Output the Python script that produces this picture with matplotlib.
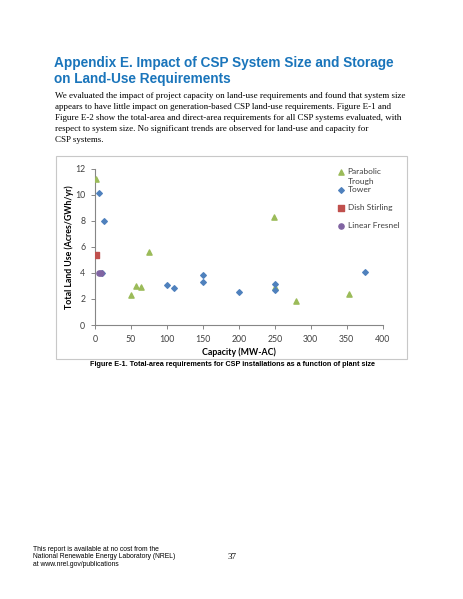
import matplotlib
matplotlib.use("Agg")
import matplotlib.pyplot as plt
from matplotlib.patches import Rectangle

# data (capacity MW-AC, land use acres/GWh/yr)
trough_x = [1, 50, 57, 64, 75, 249, 250, 280, 353]
trough_y = [11.2, 2.28, 3.0, 2.95, 5.63, 8.27, 2.95, 1.84, 2.4]
tower_x = [5, 13, 10, 100, 110, 150, 150, 200, 250, 250, 376]
tower_y = [10.1, 8.0, 4.0, 3.07, 2.87, 3.84, 3.33, 2.56, 3.17, 2.69, 4.04]
dish_x = [1]
dish_y = [5.37]
fresnel_x = [5, 8]
fresnel_y = [4.0, 4.0]

xticks = [0, 50, 100, 150, 200, 250, 300, 350, 400]
yticks = [0, 2, 4, 6, 8, 10, 12]

title = "Appendix E. Impact of CSP System Size and Storage\non Land-Use Requirements"
body = ["We evaluated the impact of project capacity on land-use requirements and found that system size",
        "appears to have little impact on generation-based CSP land-use requirements. Figure E-1 and",
        "Figure E-2 show the total-area and direct-area requirements for all CSP systems evaluated, with",
        "respect to system size. No significant trends are observed for land-use and capacity for",
        "CSP systems."]
caption = "Figure E-1. Total-area requirements for CSP installations as a function of plant size"
footer = "This report is available at no cost from the\nNational Renewable Energy Laboratory (NREL)\nat www.nrel.gov/publications"

W, H = 463, 599
fig = plt.figure(figsize=(W / 100, H / 100), dpi=100)

def fx(px):
    return px / W

def fy(py):
    return 1 - py / H

# page text
fig.text(fx(54), fy(71), title, color="#1a75bb", fontsize=9.8, fontweight="bold",
         family="Liberation Sans", va="center", linespacing=1.1)
for i, line in enumerate(body):
    fig.text(fx(55), fy(96 + i * 11), line, fontsize=6.45, family="Liberation Serif", va="center")

# chart frame
fig.patches.append(Rectangle((fx(56), fy(359)), fx(407) - fx(56), fy(156) - fy(359),
                             transform=fig.transFigure, fill=False, ec="#c8c8c8", lw=0.8))

ax = fig.add_axes([fx(95), fy(325), fx(382.7) - fx(95), fy(168.7) - fy(325)])
ax.scatter(trough_x, trough_y, marker="^", s=14, color="#9bbb59", label="Parabolic", zorder=3)
ax.scatter(tower_x, tower_y, marker="D", s=8, color="#4f81bd", label="Tower", zorder=3)
ax.scatter(dish_x, dish_y, marker="s", s=14, color="#c0504d", label="Dish Stirling", zorder=3)
ax.scatter(fresnel_x, fresnel_y, marker="o", s=14, color="#8064a2", label="Linear Fresnel", zorder=3)

ax.set_xlim(0, 400)
ax.set_ylim(0, 12)
ax.set_xticks(xticks)
ax.set_yticks(yticks)
for s in ["top", "right"]:
    ax.spines[s].set_visible(False)
for s in ["left", "bottom"]:
    ax.spines[s].set_color("#868686")
    ax.spines[s].set_linewidth(0.8)
ax.tick_params(direction="out", length=3, width=0.7, color="#868686", labelsize=6.3,
               labelcolor="#404040", pad=4)
for lab in ax.get_xticklabels() + ax.get_yticklabels():
    lab.set_family("Lato")
ax.set_xlabel("Capacity (MW-AC)", fontsize=6.3, fontweight="bold", family="Lato", labelpad=3)
ax.set_ylabel("Total Land Use (Acres/GWh/yr)", fontsize=6.3, fontweight="bold", family="Lato", labelpad=0.5)

leg = ax.legend(loc="upper left", bbox_to_anchor=(fx(333), fy(164)), bbox_transform=fig.transFigure,
                frameon=False, handletextpad=0.25, handlelength=1.0,
                labelspacing=1.33, borderpad=0, prop={"family": "Lato", "size": 6.0})
for t in leg.get_texts():
    t.set_color("#404040")

# second line of the first legend label, hung under "Parabolic" like Excel does
fig.canvas.draw()
bb = leg.get_texts()[0].get_window_extent().transformed(fig.transFigure.inverted())
fig.text(bb.x0, (bb.y0 + bb.y1) / 2 - 9.6 / H, "Trough", fontsize=6.0, family="Lato",
         color="#404040", ha="left", va="center")

fig.text(fx(233), fy(364), caption, fontsize=5.25, fontweight="bold", family="Liberation Sans",
         ha="center", va="center")

fig.text(fx(33), fy(557), footer, fontsize=4.9, family="Liberation Sans", va="center", linespacing=1.15)
fig.text(fx(232), fy(557), "37", fontsize=6.5, family="Liberation Serif", ha="center", va="center")

fig.savefig("out.png", dpi=100)
